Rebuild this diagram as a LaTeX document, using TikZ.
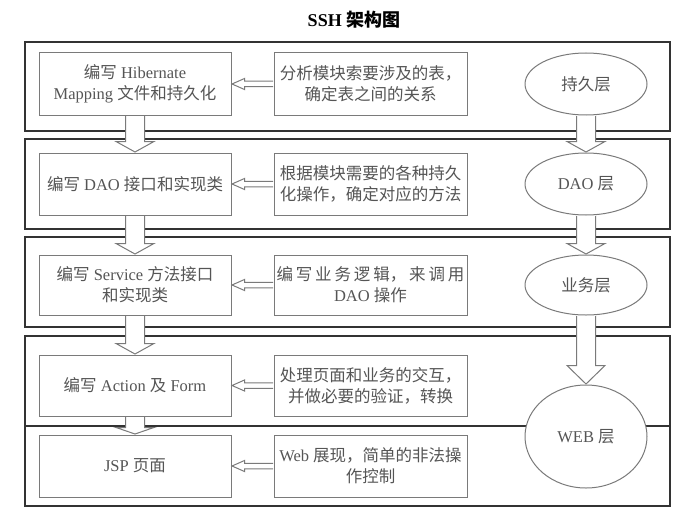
\documentclass[tikz,border=0pt]{standalone}
\usepackage{fontspec}
\setmainfont{Liberation Serif}
\newfontfamily\cjk{Noto Sans CJK SC}
\usetikzlibrary{calc,shapes.geometric}
\definecolor{txtgray}{HTML}{555555}
\definecolor{boxgray}{HTML}{7A7A7A}
\definecolor{framegray}{HTML}{333333}
\newcommand{\zh}[1]{{\cjk #1}}
\newcommand{\downfat}[3][11pt]{%
  \draw[fat] let \p1=(#2.south), \p2=(#3.north) in
    (\x1-9.5pt,\y1-0.5pt) -- (\x1-9.5pt,\y2+#1) -- (\x1-19pt,\y2+#1)
    -- (\x1,\y2+0.5pt) -- (\x1+19pt,\y2+#1) -- (\x1+9.5pt,\y2+#1)
    -- (\x1+9.5pt,\y1-0.5pt);}
\newcommand{\leftfat}[2]{%
  \draw[fat] let \p1=(#1.west), \p2=(#2.east) in
    (\x1-0.5pt,\y1-2.75pt) -- (\x2+13pt,\y1-2.75pt) -- (\x2+13pt,\y1-5.5pt)
    -- (\x2+0.5pt,\y1) -- (\x2+13pt,\y1+5.5pt) -- (\x2+13pt,\y1+2.75pt)
    -- (\x1-0.5pt,\y1+2.75pt);}
\begin{document}
\begin{tikzpicture}[x=1pt,y=-1pt,
    font=\fontsize{16.5}{21}\selectfont, text=txtgray,
    panel/.style={draw=framegray,line width=1.8pt,minimum width=645pt,inner sep=0pt},
    box/.style={draw=boxgray,line width=1pt,fill=white,minimum width=192pt,
      minimum height=62pt,inner sep=0pt,align=center},
    layer/.style={ellipse,draw=boxgray,line width=1pt,fill=white,minimum width=122pt,
      minimum height=62pt,inner sep=0pt,align=center},
    fat/.style={draw=boxgray,line width=1pt,fill=white}]
      \useasboundingbox (0,0) rectangle (679,516);
      \node[text=black,font=\fontsize{18}{22}\selectfont\bfseries] (title) at (354,20)
        {SSH \zh{架构图}};
      \path
        (347.5,86.5) node[panel,minimum height=89pt] (p1){}
        (347.5,184) node[panel,minimum height=90pt] (p2){}
        (347.5,282) node[panel,minimum height=90pt] (p3){}
        (347.5,381) node[panel,minimum height=90pt] (p4){}
        (347.5,466) node[panel,minimum height=80pt] (p5){};
      \path
        (135,84) node[box] (m1){\zh{编写} Hibernate\\Mapping \zh{文件和持久化}}
        (135,184) node[box] (m2){\zh{编写} DAO \zh{接口和实现类}}
        (135,285) node[box,minimum height=60pt] (m3){\zh{编写} Service \zh{方法接口}\\\zh{和实现类}}
        (135,385.5) node[box,minimum height=61pt] (m4){\zh{编写} Action \zh{及} Form}
        (135,466) node[box] (m5){JSP \zh{页面}};
      \path
        (370.5,84) node[box,minimum width=193pt] (r1){\zh{分析模块索要涉及的表，}\\\zh{确定表之间的关系}}
        (370.5,184) node[box,minimum width=193pt] (r2){\zh{根据模块需要的各种持久}\\\zh{化操作，确定对应的方法}}
        (370.5,285) node[box,minimum width=193pt,minimum height=60pt] (r3)
          {\makebox[188pt][s]{\cjk 编 写 业 务 逻 辑， 来 调 用}\\DAO \zh{操作}}
        (370.5,385.5) node[box,minimum width=193pt,minimum height=61pt] (r4)
          {\zh{处理页面和业务的交互，}\\\zh{并做必要的验证，转换}}
        (370.5,466) node[box,minimum width=193pt] (r5){Web \zh{展现，简单的非法操}\\\zh{作控制}};
      \path
        (586,84) node[layer] (l1){\zh{持久层}}
        (586,184) node[layer] (l2){DAO \zh{层}}
        (586,285) node[layer,minimum height=60pt] (l3){\zh{业务层}}
        (586,436.5) node[layer,minimum height=103pt] (l4){WEB \zh{层}};
      \begin{scope}
        \downfat{m1}{m2}
        \downfat{m2}{m3}
        \downfat{m3}{m4}
        \downfat[7pt]{m4}{m5}
        \downfat{l1}{l2}
        \downfat{l2}{l3}
        \downfat[19pt]{l3}{l4}
        \leftfat{r1}{m1}
        \leftfat{r2}{m2}
        \leftfat{r3}{m3}
        \leftfat{r4}{m4}
        \leftfat{r5}{m5}
      \end{scope}
    \end{tikzpicture}
\end{document}
